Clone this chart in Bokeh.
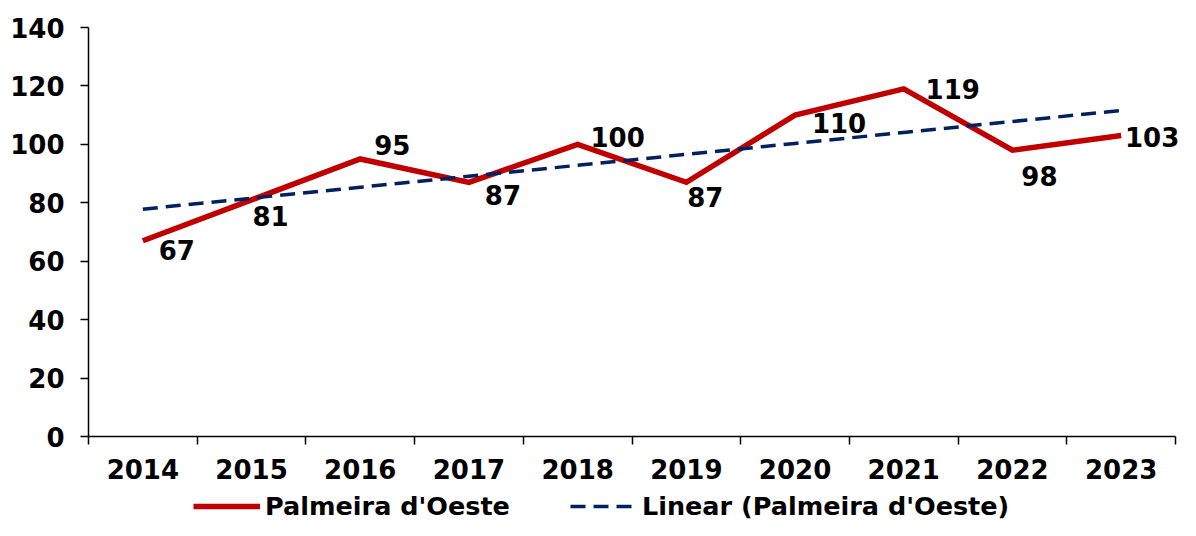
import numpy as np
from bokeh.plotting import figure
from bokeh.layouts import column
from bokeh.models import Range1d, FixedTicker, Legend, LegendItem, ColumnDataSource
from bokeh.core.properties import value
from bokeh.embed import file_html
from bokeh.resources import INLINE

years = ["2014", "2015", "2016", "2017", "2018", "2019", "2020", "2021", "2022", "2023"]
values = [67, 81, 95, 87, 100, 87, 110, 119, 98, 103]
series_name = "Palmeira d'Oeste"
trend_name = "Linear (Palmeira d'Oeste)"
y_ticks = [0, 20, 40, 60, 80, 100, 120, 140]

# label placement (screen px offsets from each point)
label_dx = [34, 19, 32, 34, 40, 19, 44, 49, 27, 31]
label_dy = [9, 16, -14, 13, -7, 15, 8, 0, 26, 1]

FONT = "DejaVu Sans"
FS = "26px"
RED = "#C00000"
NAVY = "#002060"

xs = list(range(1, len(years) + 1))
coef = np.polyfit(xs, values, 1)
trend = [float(coef[0] * x + coef[1]) for x in xs]

n = len(years)
W = 1180
LEFT = 88
AXIS_RIGHT = 1175
frame_w = W - LEFT
x_end = 0.5 + n * frame_w / (AXIS_RIGHT - LEFT)

p = figure(width=W, height=484, output_backend="svg", toolbar_location=None,
           x_range=Range1d(0.5, x_end), y_range=Range1d(0, 140),
           min_border_left=LEFT, min_border_right=0, min_border_top=27, min_border_bottom=48)
p.outline_line_color = None
p.grid.visible = False
p.background_fill_color = "white"

# axes
xa = p.xaxis[0]
xa.bounds = (0.5, n + 0.5)
xa.ticker = FixedTicker(ticks=xs, minor_ticks=[x - 0.5 for x in xs] + [n + 0.5])
xa.major_label_overrides = {x: y for x, y in zip(xs, years)}
xa.major_tick_out = 0
xa.major_tick_in = 0
xa.minor_tick_out = 8
xa.minor_tick_in = 0
xa.minor_tick_line_color = "black"
xa.minor_tick_line_width = 1.5
xa.axis_line_width = 1.5
xa.major_label_standoff = 14
ya = p.yaxis[0]
ya.ticker = FixedTicker(ticks=y_ticks)
ya.major_tick_out = 8
ya.major_tick_in = 0
ya.minor_tick_out = 0
ya.axis_line_width = 1.5
ya.major_tick_line_width = 1.5
ya.major_label_standoff = 16
for ax in (xa, ya):
    ax.axis_line_color = "black"
    ax.major_tick_line_color = "black"
    ax.major_label_text_font = FONT
    ax.major_label_text_font_style = "bold"
    ax.major_label_text_font_size = FS
    ax.major_label_text_color = "black"

src = ColumnDataSource(dict(x=xs, y=values, t=trend, lab=[str(v) for v in values],
                            dx=label_dx, dy=label_dy))

p.line("x", "y", source=src, line_color=RED, line_width=5.5, line_join="miter")
p.line("x", "t", source=src, line_color=NAVY, line_width=3.5, line_dash="15 8")
p.text("x", "y", text="lab", source=src, x_offset="dx", y_offset="dy",
       text_align="center", text_baseline="middle",
       text_font=value(FONT), text_font_style="bold", text_font_size=FS, text_color="black")

# legend strip below the chart (its frame is aligned with the chart frame)
lf = figure(width=W, height=36, output_backend="svg", toolbar_location=None,
            x_range=Range1d(0, 1), y_range=Range1d(0, 1),
            x_axis_location=None, y_axis_location=None,
            min_border_left=0, min_border_right=0, min_border_top=0, min_border_bottom=0)
lf.outline_line_color = None
lf.grid.visible = False
empty = ColumnDataSource(dict(x=np.array([np.nan]), y=np.array([np.nan])))
g_main = lf.line("x", "y", source=empty, line_color=RED, line_width=5.5)
g_trend = lf.line("x", "y", source=empty, line_color=NAVY, line_width=3.5, line_dash="15 8")
legend = Legend(items=[LegendItem(label=series_name, renderers=[g_main]),
                       LegendItem(label=trend_name, renderers=[g_trend])],
                orientation="horizontal", location=(193 - LEFT, -1),
                border_line_color=None, background_fill_alpha=0,
                label_text_font=FONT, label_text_font_style="bold", label_text_font_size="25.5px",
                label_text_color="black", label_height=20,
                glyph_width=67, glyph_height=20, label_standoff=5, spacing=60,
                padding=0, margin=0)
lf.add_layout(legend, "center")

layout = column(p, lf, spacing=0)
open("out.html", "w").write(file_html(layout, INLINE))
